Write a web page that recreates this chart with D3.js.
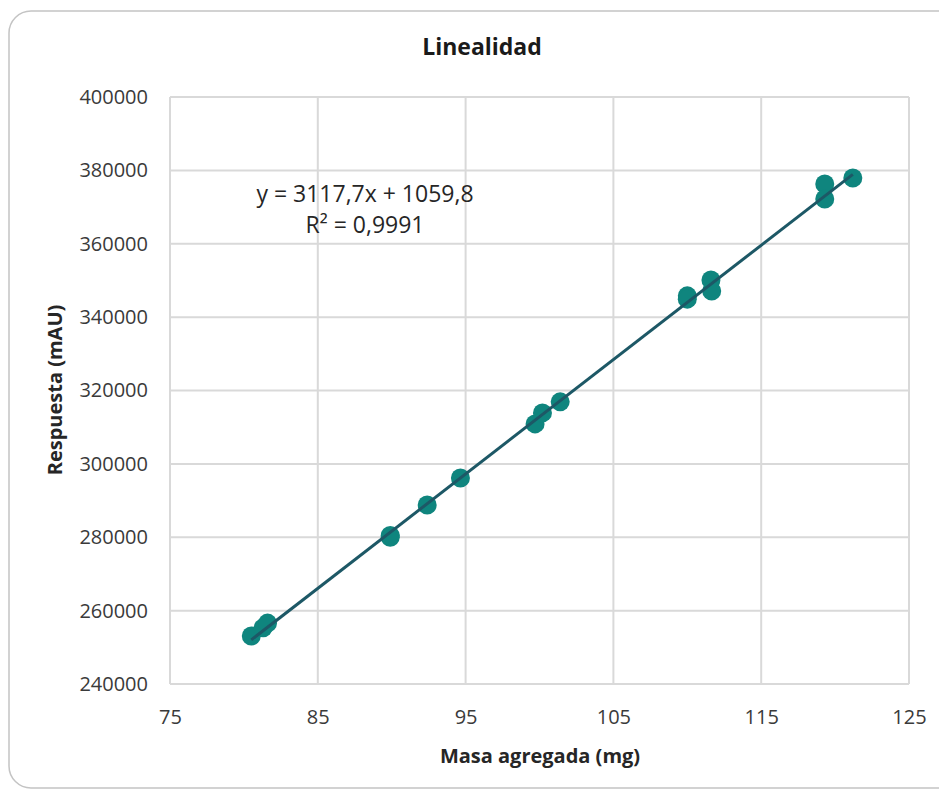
<!DOCTYPE html>
<html>
<head>
<meta charset="utf-8">
<script src="https://cdn.jsdelivr.net/npm/d3@7/dist/d3.min.js"></script>
<style>
  body { margin: 0; background: #fff; }
  svg { display: block; font-family: "Open Sans", sans-serif; }
</style>
</head>
<body>
<svg width="939" height="789"></svg>
<script>
// masa agregada (mg) vs respuesta (mAU)
const masa = [80.5, 81.3, 81.6, 89.9, 89.9, 92.4, 94.65, 99.7, 100.2, 101.4, 110.0, 110.0, 111.6, 111.65, 119.3, 119.3, 121.2];
const respuesta = [253100, 255300, 256600, 280000, 280500, 288800, 296150, 310900, 313900, 316900, 345800, 344900, 350100, 347100, 376300, 372200, 377900];

// trendline as printed on the chart
const pendiente = 3117.7;
const intercepto = 1059.8;
const ecuacion = ['y = 3117,7x + 1059,8', 'R² = 0,9991'];

const xTicks = [75, 85, 95, 105, 115, 125];
const yTicks = [240000, 260000, 280000, 300000, 320000, 340000, 360000, 380000, 400000];

const svg = d3.select('svg');

// chart frame
svg.append('rect')
  .attr('x', 9).attr('y', 11)
  .attr('width', 952).attr('height', 777)
  .attr('rx', 22)
  .attr('fill', '#fff')
  .attr('stroke', '#c4c4c4')
  .attr('stroke-width', 1.5);

const plotL = 170, plotR = 909, plotT = 97, plotB = 684;

const x = d3.scaleLinear().domain([75, 125]).range([plotL, plotR]);
const y = d3.scaleLinear().domain([240000, 400000]).range([plotB, plotT]);

// gridlines
svg.append('g')
  .selectAll('line')
  .data(xTicks)
  .enter().append('line')
    .attr('x1', d => x(d)).attr('x2', d => x(d))
    .attr('y1', plotT).attr('y2', plotB)
    .attr('stroke', '#d9d9d9').attr('stroke-width', 2);

svg.append('g')
  .selectAll('line')
  .data(yTicks)
  .enter().append('line')
    .attr('x1', plotL).attr('x2', plotR)
    .attr('y1', d => y(d)).attr('y2', d => y(d))
    .attr('stroke', '#d9d9d9').attr('stroke-width', 2);

// tick labels via axes, no domain or tick marks
const xAxis = svg.append('g')
  .attr('transform', `translate(0,${plotB})`)
  .call(d3.axisBottom(x).tickValues(xTicks).tickSize(0).tickPadding(26).tickFormat(d3.format('d')));
const yAxis = svg.append('g')
  .attr('transform', `translate(${plotL},0)`)
  .call(d3.axisLeft(y).tickValues(yTicks).tickSize(0).tickPadding(22).tickFormat(d3.format('d')));

[xAxis, yAxis].forEach(g => {
  g.select('.domain').remove();
  g.selectAll('text')
    .attr('font-family', '"Open Sans", sans-serif')
    .attr('font-size', 20)
    .attr('fill', '#3a3a3a');
});

// points
const pts = masa.map((m, i) => ({ m, r: respuesta[i] }));
svg.append('g')
  .selectAll('circle')
  .data(pts)
  .enter().append('circle')
    .attr('cx', d => x(d.m))
    .attr('cy', d => y(d.r))
    .attr('r', 9.5)
    .attr('fill', '#0f857e');

// trendline over the data range
const xr = d3.extent(masa);
svg.append('line')
  .attr('x1', x(xr[0])).attr('y1', y(pendiente * xr[0] + intercepto))
  .attr('x2', x(xr[1])).attr('y2', y(pendiente * xr[1] + intercepto))
  .attr('stroke', '#1d5866')
  .attr('stroke-width', 3);

// equation label
svg.append('g')
  .selectAll('text')
  .data(ecuacion)
  .enter().append('text')
    .attr('x', 365)
    .attr('y', (d, i) => 202 + i * 31)
    .attr('text-anchor', 'middle')
    .attr('font-size', 23)
    .attr('fill', '#262626')
    .text(d => d);

// titles
svg.append('text')
  .attr('x', 482).attr('y', 55)
  .attr('text-anchor', 'middle')
  .attr('font-size', 23).attr('font-weight', 'bold')
  .attr('fill', '#1a1a1a')
  .text('Linealidad');

svg.append('text')
  .attr('x', 540).attr('y', 763)
  .attr('text-anchor', 'middle')
  .attr('font-size', 20).attr('font-weight', 'bold')
  .attr('fill', '#262626')
  .text('Masa agregada (mg)');

svg.append('text')
  .attr('transform', 'translate(62,390) rotate(-90)')
  .attr('text-anchor', 'middle')
  .attr('font-size', 20).attr('font-weight', 'bold')
  .attr('fill', '#262626')
  .text('Respuesta (mAU)');
</script>
</body>
</html>
